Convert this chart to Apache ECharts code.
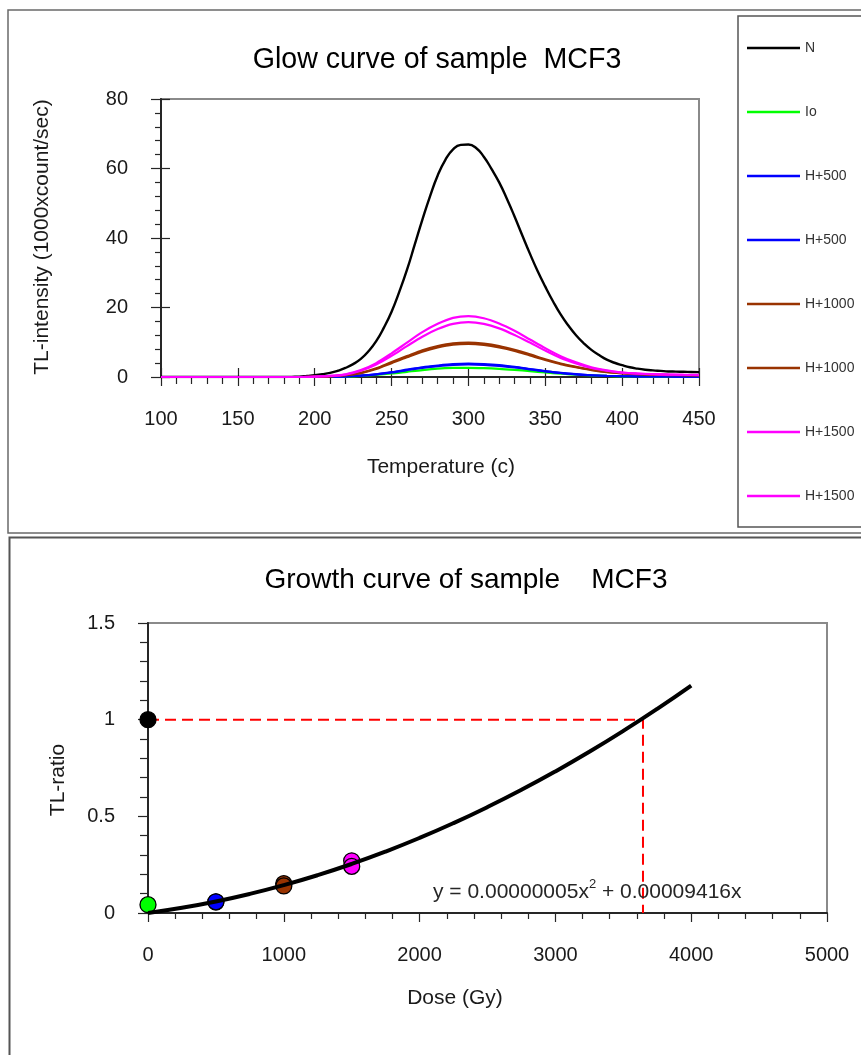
<!DOCTYPE html>
<html>
<head>
<meta charset="utf-8">
<script src="https://cdn.jsdelivr.net/npm/echarts@6/dist/echarts.min.js"></script>
<style>
  html, body { margin: 0; padding: 0; background: #ffffff; }
  #main { width: 861px; height: 1055px; }
</style>
</head>
<body>
<div id="main"></div>
<script>
// ---- Glow curves: TL intensity (1000 x count/sec) against temperature (c) ----
// the natural (N) curve is sampled every 5 degrees, the irradiated ones every 10
const temperaturesN = [100, 105, 110, 115, 120, 125, 130, 135, 140, 145, 150, 155, 160, 165, 170, 175, 180,
                       185, 190, 195, 200, 205, 210, 215, 220, 225, 230, 235, 240, 245, 250, 255, 260, 265,
                       270, 275, 280, 285, 290, 295, 300, 305, 310, 315, 320, 325, 330, 335, 340, 345, 350,
                       355, 360, 365, 370, 375, 380, 385, 390, 395, 400, 405, 410, 415, 420, 425, 430, 435,
                       440, 445, 450];
const glowN = [0, 0, 0, 0, 0, 0, 0, 0, 0, 0, 0, 0, 0, 0, 0, 0, 0,
               0.05, 0.1, 0.3, 0.5, 0.8, 1.2, 1.8, 2.6, 3.7, 5.2, 7.4, 10.3, 14.2, 18.8, 24.5, 30.8, 38.0,
               45.2, 52.0, 58.0, 62.5, 65.5, 66.8, 66.9, 65.9, 63.4, 59.9, 56.0, 51.3, 46.2, 40.8, 35.5, 30.5, 26.0,
               21.8, 18.0, 14.8, 12.0, 9.7, 7.8, 6.3, 5.0, 4.1, 3.4, 2.8, 2.4, 2.1, 1.9, 1.75, 1.6, 1.55,
               1.5, 1.45, 1.4];

const temperatures = [100, 110, 120, 130, 140, 150, 160, 170, 180, 190, 200, 210, 220, 230, 240, 250, 260, 270,
                      280, 290, 300, 310, 320, 330, 340, 350, 360, 370, 380, 390, 400, 410, 420, 430, 440, 450];
const glowIo     = [0, 0, 0, 0, 0, 0, 0, 0, 0, 0, 0, 0, 0.1, 0.3, 0.6, 1.0, 1.5, 2.0,
                    2.4, 2.6, 2.65, 2.55, 2.35, 2.05, 1.7, 1.3, 0.95, 0.65, 0.45, 0.3, 0.2, 0.15, 0.1, 0.1, 0.1, 0.1];
const glowH500a  = [0, 0, 0, 0, 0, 0, 0, 0, 0, 0, 0, 0.1, 0.2, 0.4, 0.8, 1.4, 2.1, 2.8,
                    3.3, 3.7, 3.85, 3.7, 3.4, 2.9, 2.3, 1.7, 1.2, 0.8, 0.5, 0.35, 0.25, 0.2, 0.15, 0.15, 0.1, 0.1];
const glowH500b  = [0, 0, 0, 0, 0, 0, 0, 0, 0, 0, 0, 0.1, 0.2, 0.4, 0.75, 1.3, 2.0, 2.65,
                    3.15, 3.5, 3.6, 3.5, 3.2, 2.75, 2.2, 1.6, 1.15, 0.75, 0.5, 0.35, 0.25, 0.2, 0.15, 0.15, 0.1, 0.1];
const glowH1000a = [0, 0, 0, 0, 0, 0, 0, 0, 0, 0, 0.1, 0.2, 0.5, 1.2, 2.5, 4.3, 6.0, 7.7,
                    8.9, 9.7, 9.9, 9.6, 8.9, 7.8, 6.5, 5.1, 3.9, 2.9, 2.1, 1.5, 1.1, 0.85, 0.7, 0.6, 0.55, 0.5];
const glowH1000b = [0, 0, 0, 0, 0, 0, 0, 0, 0, 0, 0.1, 0.2, 0.5, 1.1, 2.3, 4.0, 5.7, 7.3,
                    8.5, 9.3, 9.5, 9.2, 8.5, 7.5, 6.2, 4.9, 3.7, 2.8, 2.0, 1.4, 1.05, 0.8, 0.65, 0.55, 0.5, 0.45];
const glowH1500a = [0, 0, 0, 0, 0, 0, 0, 0, 0, 0, 0.1, 0.3, 0.8, 2.0, 4.0, 6.8, 9.9, 12.9,
                    15.3, 17.0, 17.5, 16.9, 15.4, 13.3, 10.8, 8.3, 6.0, 4.2, 2.8, 1.9, 1.3, 1.0, 0.8, 0.7, 0.65, 0.6];
const glowH1500b = [0, 0, 0, 0, 0, 0, 0, 0, 0, 0, 0.1, 0.3, 0.7, 1.8, 3.6, 6.1, 8.9, 11.6,
                    13.8, 15.3, 15.8, 15.3, 14.0, 12.1, 9.9, 7.6, 5.5, 3.9, 2.6, 1.8, 1.25, 0.95, 0.8, 0.7, 0.6, 0.55];

const sampleNames  = ['N', 'Io', 'H+500', 'H+500', 'H+1000', 'H+1000', 'H+1500', 'H+1500'];
const glowValues   = [glowN, glowIo, glowH500a, glowH500b, glowH1000a, glowH1000b, glowH1500a, glowH1500b];
const glowTempAxis = [temperaturesN, temperatures, temperatures, temperatures, temperatures, temperatures, temperatures, temperatures];

// ---- Growth curve: TL ratio against dose (Gy) ----
const doses  = [0, 0, 500, 500, 1000, 1000, 1500, 1500];
const ratios = [1.0, 0.043, 0.058, 0.058, 0.152, 0.140, 0.270, 0.241];

// second-order fit y = 0.00000005x^2 + 0.00009416x, tabulated
const fitDoses  = [0, 250, 500, 750, 1000, 1250, 1500, 1750, 2000, 2250, 2500, 2750, 3000, 3250, 3500, 3750, 4000];
const fitRatios = [0, 0.02667, 0.05958, 0.09875, 0.14416, 0.19583, 0.25374, 0.31791, 0.38832,
                   0.46499, 0.5479, 0.63707, 0.73248, 0.83415, 0.94206, 1.05623, 1.17664];

const equivalentDose = 3645;
const naturalRatio = 1;

// ---- styling ----
const sampleColors = ['#000000', '#00ff00', '#0000ff', '#0000ff', '#993300', '#993300', '#ff00ff', '#ff00ff'];
const FONT = '"Liberation Sans", Arial, Helvetica, sans-serif';
const AXIS_COLOR = '#262626';
const TEXT_COLOR = '#1a1a1a';

const chart = echarts.init(document.getElementById('main'), null, { renderer: 'canvas' });

function mainAxis(extra) {
  return Object.assign({
    type: 'value',
    axisLine: { show: true, onZero: false, lineStyle: { color: AXIS_COLOR, width: 2 } },
    axisTick: { show: true, inside: false, length: 9, lineStyle: { color: AXIS_COLOR, width: 1.2 } },
    minorTick: { show: true, splitNumber: 5, length: 7, lineStyle: { color: AXIS_COLOR, width: 1.2 } },
    axisLabel: { show: true, color: TEXT_COLOR, fontSize: 20, fontFamily: FONT, margin: 32,
                 formatter: (v) => String(v) },
    splitLine: { show: false },
    minorSplitLine: { show: false }
  }, extra);
}
function innerTickAxis(extra) {
  return Object.assign({
    type: 'value',
    axisLine: { show: false },
    axisTick: { show: true, inside: true, length: 9, lineStyle: { color: AXIS_COLOR, width: 1.2 } },
    axisLabel: { show: false },
    splitLine: { show: false }
  }, extra);
}

const glowSeries = sampleNames.map((name, i) => ({
  type: 'line',
  name: name,
  xAxisIndex: 0,
  yAxisIndex: 0,
  data: glowTempAxis[i].map((t, j) => [t, glowValues[i][j]]),
  smooth: i === 0 ? 0.5 : 0.3,
  symbol: 'none',
  showSymbol: false,
  color: sampleColors[i],
  lineStyle: { color: sampleColors[i], width: i === 0 ? 2.4 : 2.2 },
  z: 2 + i
}));

// one legend block per entry so repeated sample names each get a row
const legends = sampleNames.map((name, i) => ({
  data: [name],
  orient: 'vertical',
  left: 747,
  top: 41 + i * 64,
  padding: 0,
  icon: 'rect',
  itemWidth: 53,
  itemHeight: 2.5,
  itemGap: 0,
  selectedMode: false,
  textStyle: { color: '#333333', fontSize: 14, fontFamily: FONT, padding: [0, 0, 0, 0] }
}));

const option = {
  animation: false,
  backgroundColor: '#ffffff',
  textStyle: { fontFamily: FONT },
  legend: legends,
  grid: [
    { left: 161, top: 99, width: 538, height: 278, show: true, borderColor: '#8a8a8a', borderWidth: 2, backgroundColor: 'transparent' },
    { left: 148, top: 623, width: 679, height: 290, show: true, borderColor: '#8a8a8a', borderWidth: 2, backgroundColor: 'transparent' }
  ],
  xAxis: [
    mainAxis({ gridIndex: 0, position: 'bottom', min: 100, max: 450, interval: 50 }),
    innerTickAxis({ gridIndex: 0, position: 'bottom', min: 100, max: 450, interval: 50 }),
    mainAxis({ gridIndex: 1, position: 'bottom', min: 0, max: 5000, interval: 1000,
               minorTick: { show: true, splitNumber: 5, length: 6, lineStyle: { color: AXIS_COLOR, width: 1.2 } } })
  ],
  yAxis: [
    mainAxis({ gridIndex: 0, position: 'left', min: 0, max: 80, interval: 20,
               axisTick: { show: true, length: 10, lineStyle: { color: AXIS_COLOR, width: 1.2 } },
               minorTick: { show: true, splitNumber: 5, length: 6, lineStyle: { color: AXIS_COLOR, width: 1.2 } },
               axisLabel: { color: TEXT_COLOR, fontSize: 20, fontFamily: FONT, margin: 33 } }),
    innerTickAxis({ gridIndex: 0, position: 'left', min: 0, max: 80, interval: 20 }),
    mainAxis({ gridIndex: 1, position: 'left', min: 0, max: 1.5, interval: 0.5,
               axisTick: { show: true, length: 10, lineStyle: { color: AXIS_COLOR, width: 1.2 } },
               minorTick: { show: true, splitNumber: 5, length: 8, lineStyle: { color: AXIS_COLOR, width: 1.2 } },
               axisLabel: { color: TEXT_COLOR, fontSize: 20, fontFamily: FONT, margin: 33 } })
  ],
  series: glowSeries.concat([
    {
      type: 'line',
      name: 'ratio 1 guide',
      xAxisIndex: 2,
      yAxisIndex: 2,
      data: [[0, naturalRatio], [equivalentDose, naturalRatio], [equivalentDose, 0]],
      symbol: 'none',
      lineStyle: { color: '#ff0000', width: 2, type: [11, 6] },
      z: 3
    },
    {
      type: 'scatter',
      name: 'TL ratio',
      xAxisIndex: 2,
      yAxisIndex: 2,
      data: doses.map((d, i) => ({
        value: [d, ratios[i]],
        itemStyle: { color: sampleColors[i] }
      })),
      symbol: 'circle',
      symbolSize: 16,
      itemStyle: { borderColor: '#000000', borderWidth: 1.3, opacity: 1 },
      z: 4
    },
    {
      type: 'line',
      name: 'fit',
      xAxisIndex: 2,
      yAxisIndex: 2,
      data: fitDoses.map((d, i) => [d, fitRatios[i]]),
      smooth: true,
      symbol: 'none',
      lineStyle: { color: '#000000', width: 4 },
      z: 5
    }
  ]),
  graphic: [
    // panel frames
    { type: 'rect', silent: true, z: -10, shape: { x: 8, y: 10, width: 900, height: 523 },
      style: { fill: 'none', stroke: '#6a6a6a', lineWidth: 1.5 } },
    { type: 'rect', silent: true, z: -10, shape: { x: 9.5, y: 537.5, width: 900, height: 600 },
      style: { fill: 'none', stroke: '#555555', lineWidth: 2 } },
    // legend frame
    { type: 'rect', silent: true, z: -10, shape: { x: 738, y: 16, width: 200, height: 511 },
      style: { fill: 'none', stroke: '#555555', lineWidth: 1.5 } },
    // titles
    { type: 'text', silent: true, x: 437, y: 60,
      style: { text: 'Glow curve of sample  MCF3', fill: '#000000', font: '28.6px ' + FONT,
               textAlign: 'center', textVerticalAlign: 'middle' } },
    { type: 'text', silent: true, x: 466, y: 580,
      style: { text: 'Growth curve of sample    MCF3', fill: '#000000', font: '28px ' + FONT,
               textAlign: 'center', textVerticalAlign: 'middle' } },
    // axis names
    { type: 'text', silent: true, x: 42, y: 237, rotation: Math.PI / 2,
      style: { text: 'TL-intensity (1000xcount/sec)', fill: TEXT_COLOR, font: '21px ' + FONT,
               textAlign: 'center', textVerticalAlign: 'middle' } },
    { type: 'text', silent: true, x: 441, y: 467,
      style: { text: 'Temperature (c)', fill: TEXT_COLOR, font: '21px ' + FONT,
               textAlign: 'center', textVerticalAlign: 'middle' } },
    { type: 'text', silent: true, x: 58, y: 780, rotation: Math.PI / 2,
      style: { text: 'TL-ratio', fill: TEXT_COLOR, font: '21px ' + FONT,
               textAlign: 'center', textVerticalAlign: 'middle' } },
    { type: 'text', silent: true, x: 455, y: 998,
      style: { text: 'Dose (Gy)', fill: TEXT_COLOR, font: '21px ' + FONT,
               textAlign: 'center', textVerticalAlign: 'middle' } },
    // fitted equation
    { type: 'text', silent: true, x: 433, y: 890, z: 10,
      style: {
        text: '{a|y = 0.00000005x}{s|2}{a| + 0.00009416x}',
        textAlign: 'left', textVerticalAlign: 'middle',
        rich: {
          a: { fontSize: 21, fontFamily: FONT, fill: '#262626', verticalAlign: 'bottom', lineHeight: 25 },
          s: { fontSize: 13, fontFamily: FONT, fill: '#262626', verticalAlign: 'top', lineHeight: 14 }
        }
      } }
  ]
};

chart.setOption(option);
</script>
</body>
</html>
